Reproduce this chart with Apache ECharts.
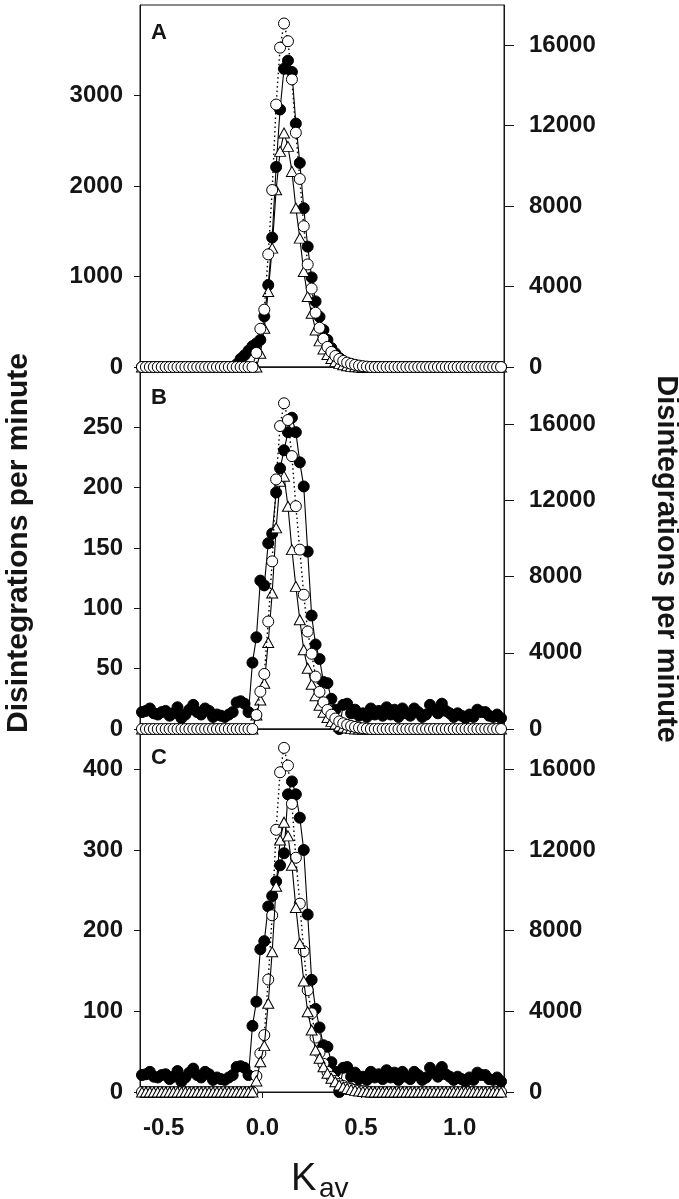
<!DOCTYPE html>
<html><head><meta charset="utf-8">
<script src="https://cdn.jsdelivr.net/npm/echarts@6/dist/echarts.min.js"></script>
<style>html,body{margin:0;padding:0;background:#fff}#c{width:679px;height:1199px}</style>
</head><body><div id="c"></div>
<script>
// ---------------- data ----------------
const kav = [-0.61,-0.59,-0.57,-0.55,-0.53,-0.51,-0.49,-0.47,-0.45,-0.43,
  -0.41,-0.39,-0.37,-0.35,-0.33,-0.31,-0.29,-0.27,-0.25,-0.23,
  -0.21,-0.19,-0.17,-0.15,-0.13,-0.11,-0.09,-0.07,-0.05,-0.03,
  -0.01,0.01,0.03,0.05,0.07,0.09,0.11,0.13,0.15,0.17,
  0.19,0.21,0.23,0.25,0.27,0.29,0.31,0.33,0.35,0.37,
  0.39,0.41,0.43,0.45,0.47,0.49,0.51,0.53,0.55,0.57,
  0.59,0.61,0.63,0.65,0.67,0.69,0.71,0.73,0.75,0.77,
  0.79,0.81,0.83,0.85,0.87,0.89,0.91,0.93,0.95,0.97,
  0.99,1.01,1.03,1.05,1.07,1.09,1.11,1.13,1.15,1.17,
  1.19,1.21];
const xTickValues = [-0.5, 0.0, 0.5, 1.0];

// Panel A
const filledA = [0,0,0,0,0,0,0,0,0,0, 0,0,0,0,0,0,0,0,0,0, 0,0,0,0,
  30,90,130,180,230,260,300,560,905,1430,2210,2845,3295,3385,3260,2690,
  2255,1755,1330,990,725,555,410,300,210,150,100,65,40,20,10,
  0,0,0,0,0,0,0,0,0,0, 0,0,0,0,0,0,0,0,0,0, 0,0,0,0,0,0,0,0,0,0, 0,0,0,0,0,0,0];
const openA = [0,0,0,0,0,0,0,0,0,0, 0,0,0,0,0,0,0,0,0,0, 0,0,0,0,0,0,0,0,0,
  700,1900,2850,5600,8800,13050,15880,17080,16200,14300,11650,9350,7000,5100,3900,
  2700,1950,1400,1000,750,550,400,300,220,160,110,70,40,20,
  0,0,0,0,0,0,0,0,0,0, 0,0,0,0,0,0,0,0,0,0, 0,0,0,0,0,0,0,0,0,0, 0,0,0,0];
const triA = [0,0,0,0,0,0,0,0,0,0, 0,0,0,0,0,0,0,0,0,0, 0,0,0,0,0,0,0,0,0,0,
  682,1927,3750,5911,8815,10722,11638,10971,9726,7903,6409,4746,3501,2674,1843,
  1300,900,620,420,280,180,110,60,30,10,
  0,0,0,0,0,0,0,0,0,0, 0,0,0,0,0,0,0,0,0,0, 0,0,0,0,0,0,0,0,0,0, 0,0,0,0,0,0,0];

// Panel B
const filledB = [14,15,17,13,12,14,15,11,13,18,9,12,16,20,14,12,17,15,10,12,11,10,12,14,22,23,21,14,
  55,76,123,119,154,162,196,216,231,246,258,246,221,201,147,94,70,58,39,38,25,16,0,
  20,21,13,16,11,13,10,17,12,15,11,18,12,16,10,17,13,11,17,14,10,12,20,16,13,21,15,13,10,13,11,9,12,10,16,14,14,11,10,12,9];
const openB = [0,0,0,0,0,0,0,0,0,0, 0,0,0,0,0,0,0,0,0,0, 0,0,0,0,0,0,0,0,0,
  736,1960,2890,5640,8800,13100,15900,17095,16217,14323,11693,9415,7048,5118,3950,
  2750,1950,1400,1000,750,550,400,300,220,160,110,70,40,20,
  0,0,0,0,0,0,0,0,0,0, 0,0,0,0,0,0,0,0,0,0, 0,0,0,0,0,0,0,0,0,0, 0,0,0,0];
const triB = [0,0,0,0,0,0,0,0,0,0, 0,0,0,0,0,0,0,0,0,0, 0,0,0,0,0,0,0,0,0,
  736,1525,2404,4539,7138,10557,13008,13271,11693,9415,7485,5733,4155,3193,2350,
  1750,1250,880,600,400,260,160,90,50,20,
  0,0,0,0,0,0,0,0,0,0, 0,0,0,0,0,0,0,0,0,0, 0,0,0,0,0,0,0,0,0,0, 0,0,0,0,0,0,0,0];

// Panel C
const filledC = [21,22,25,19,18,21,22,16,19,26,13,18,24,29,21,18,25,22,15,18,16,15,18,21,31,32,30,21,
  82,112,177,187,230,243,261,281,296,369,385,369,340,300,220,139,103,80,58,56,37,25,0,
  30,31,19,24,16,19,15,25,18,22,16,27,18,24,15,25,19,16,25,21,15,18,30,24,19,31,22,19,15,19,16,13,18,15,24,21,21,16,15,18,13];
const openC = [0,0,0,0,0,0,0,0,0,0, 0,0,0,0,0,0,0,0,0,0, 0,0,0,0,0,0,0,0,0,
  790,1914,2822,5577,8762,13003,15855,17063,16187,14290,11617,9340,6980,5049,3900,
  2700,1950,1400,1000,750,550,400,300,220,160,110,70,40,20,
  0,0,0,0,0,0,0,0,0,0, 0,0,0,0,0,0,0,0,0,0, 0,0,0,0,0,0,0,0,0,0, 0,0,0,0];
const triC = [0,0,0,0,0,0,0,0,0,0, 0,0,0,0,0,0,0,0,0,0, 0,0,0,0,0,0,0,0,0,
  550,1500,2300,4400,6950,10200,12500,13380,12700,11240,9150,7360,5500,3980,3070,
  2080,1670,1250,925,680,510,350,250,180,120,80,50,25,10,
  0,0,0,0,0,0,0,0,0,0, 0,0,0,0,0,0,0,0,0,0, 0,0,0,0,0,0,0,0,0,0, 0,0,0,0];

// axis ranges and tick labels
const leftMax = [4000, 300, 450];
const rightMax = [18000, 19000, 18000];
const leftTicksA = [0,1000,2000,3000];
const leftTicksB = [0,50,100,150,200,250];
const leftTicksC = [0,100,200,300,400];
const rightTicks = [0,4000,8000,12000,16000];
const panelLetters = ['A','B','C'];
const yTitle = 'Disintegrations per minute';

// ---------------- chart ----------------
const FONT = '"Liberation Sans", Arial, Helvetica, sans-serif';
const INK = '#151515';
const layout = [
  {top: 5, height: 362},
  {top: 367, height: 362},
  {top: 729, height: 363}
];
const filled = [filledA, filledB, filledC];
const opens = [openA, openB, openC];
const tris = [triA, triB, triC];
const leftTicks = [leftTicksA, leftTicksB, leftTicksC];
const plain = v => String(Math.round(v));

const grids = [], xAxes = [], yAxes = [], series = [];
layout.forEach((L, k) => {
  grids.push({left: 140, width: 364, top: L.top, height: L.height,
    show: true, borderColor: INK, borderWidth: 1, backgroundColor: 'transparent'});
  const bottom = k === 2;
  xAxes.push({type: 'value', gridIndex: k, min: -0.62, max: 1.225,
    axisLine: {show: true, onZero: false, lineStyle: {color: INK, width: 1}},
    axisTick: {show: bottom, customValues: xTickValues, length: 6, lineStyle: {color: INK}},
    axisLabel: {show: bottom, customValues: xTickValues, formatter: v => Number(v).toFixed(1),
      fontFamily: FONT, fontSize: 24, fontWeight: 'bold', color: INK, margin: 24},
    splitLine: {show: false}});
  yAxes.push({type: 'value', gridIndex: k, position: 'left', min: 0, max: leftMax[k],
    axisLine: {show: true, onZero: false, lineStyle: {color: INK, width: 1}},
    axisTick: {show: true, customValues: leftTicks[k], length: 6, lineStyle: {color: INK}},
    axisLabel: {customValues: leftTicks[k], formatter: plain, fontFamily: FONT, fontSize: 24,
      fontWeight: 'bold', color: INK, margin: 17},
    splitLine: {show: false}});
  yAxes.push({type: 'value', gridIndex: k, position: 'right', min: 0, max: rightMax[k],
    axisLine: {show: true, onZero: false, lineStyle: {color: INK, width: 1}},
    axisTick: {show: true, customValues: rightTicks, length: 10, lineStyle: {color: INK}},
    axisLabel: {customValues: rightTicks, formatter: plain, fontFamily: FONT, fontSize: 24,
      fontWeight: 'bold', color: INK, margin: 25},
    splitLine: {show: false}});
  const pairs = arr => kav.map((x, i) => [x, arr[i]]);
  const triOnTop = k === 2;
  series.push({type: 'line', xAxisIndex: k, yAxisIndex: 2*k, data: pairs(filled[k]),
    symbol: 'circle', symbolSize: 11, showAllSymbol: true, clip: false, z: 2,
    lineStyle: {color: '#000', width: 1.1},
    itemStyle: {color: '#000', borderColor: '#000', borderWidth: 1}});
  series.push({type: 'line', xAxisIndex: k, yAxisIndex: 2*k+1, data: pairs(tris[k]),
    symbol: 'triangle', symbolSize: [11, 10], showAllSymbol: true, clip: false, z: triOnTop ? 4 : 3,
    lineStyle: {color: '#000', width: 1.1},
    itemStyle: {color: '#fff', borderColor: '#000', borderWidth: 1}});
  series.push({type: 'line', xAxisIndex: k, yAxisIndex: 2*k+1, data: pairs(opens[k]),
    symbol: 'circle', symbolSize: 11, showAllSymbol: true, clip: false, z: triOnTop ? 3 : 4,
    lineStyle: {color: '#000', width: 1.4, type: [1.5, 3]},
    itemStyle: {color: '#fff', borderColor: '#000', borderWidth: 1}});
});

const graphics = [];
const letterTops = [22, 387, 747];
panelLetters.forEach((t, k) => graphics.push({type: 'text', left: 151, top: letterTops[k],
  style: {text: t, fontFamily: FONT, fontSize: 22, fontWeight: 'bold', fill: INK}}));
graphics.push({type: 'text', x: 19, y: 543, rotation: Math.PI/2,
  style: {text: yTitle, fontFamily: FONT, fontSize: 30, fontWeight: 'bold', fill: INK,
    align: 'center', verticalAlign: 'middle'}});
graphics.push({type: 'text', x: 666, y: 559, rotation: -Math.PI/2,
  style: {text: yTitle, fontFamily: FONT, fontSize: 29, fontWeight: 'bold', fill: INK,
    align: 'center', verticalAlign: 'middle'}});
graphics.push({type: 'text', x: 291, y: 1180,
  style: {text: 'K', fontFamily: FONT, fontSize: 38, fill: INK, align: 'left', verticalAlign: 'middle'}});
graphics.push({type: 'text', x: 319, y: 1189,
  style: {text: 'av', fontFamily: FONT, fontSize: 28, fill: INK, align: 'left', verticalAlign: 'middle'}});

const chart = echarts.init(document.getElementById('c'), null, {renderer: 'canvas'});
chart.setOption({animation: false, backgroundColor: '#fff', silent: true,
  grid: grids, xAxis: xAxes, yAxis: yAxes, series: series, graphic: graphics});
</script></body></html>
